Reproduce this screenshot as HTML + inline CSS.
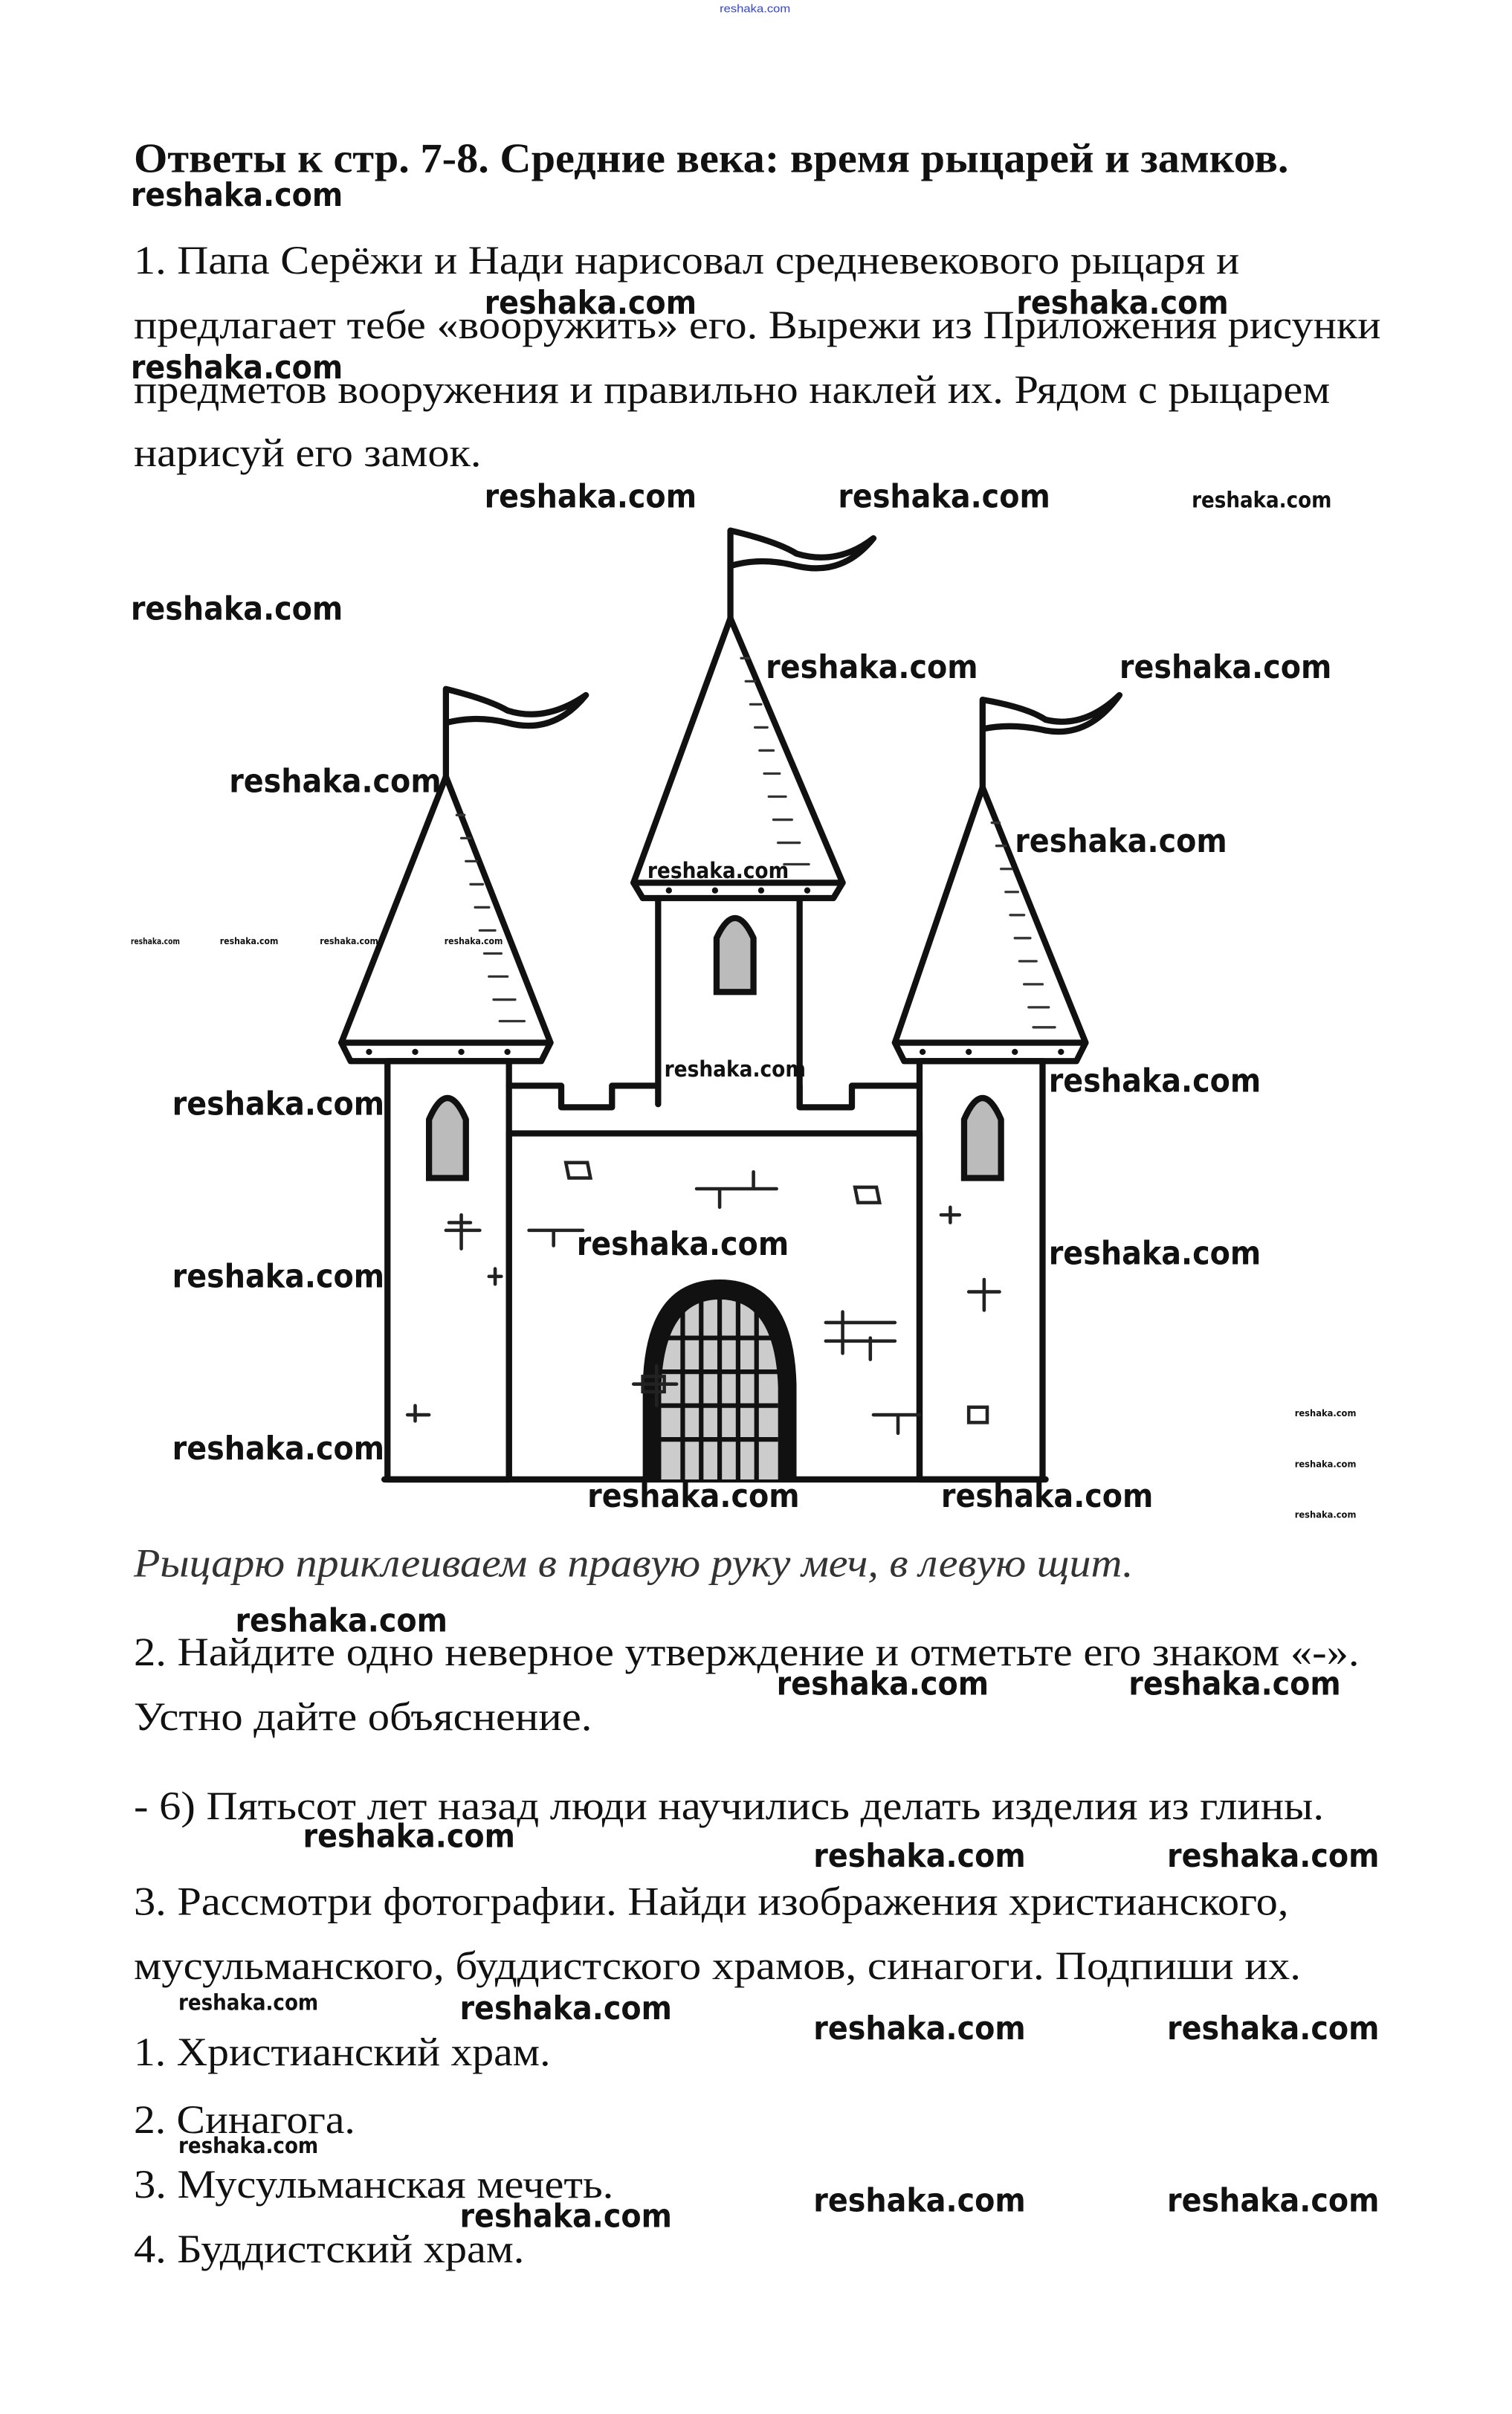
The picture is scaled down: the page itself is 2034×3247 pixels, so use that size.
<!DOCTYPE html>
<html><head><meta charset="utf-8"><style>html,body{margin:0;padding:0;background:#fff}svg{display:block}</style></head>
<body>
<svg xmlns="http://www.w3.org/2000/svg" width="2034" height="3247" viewBox="0 0 983.3 1569.7" preserveAspectRatio="none">
<rect width="1000" height="1600" fill="#fff"/>
<text x="468" y="8" font-family="Liberation Sans Narrow, Liberation Sans, sans-serif" font-size="7" fill="#3344cc" textLength="46" lengthAdjust="spacingAndGlyphs">reshaka.com</text>
<g font-family="Liberation Serif, serif" fill="#111">
<text x="87" y="112" font-weight="bold" font-size="27" textLength="751" lengthAdjust="spacingAndGlyphs">Ответы к стр. 7-8. Средние века: время рыцарей и замков.</text>
<text x="87" y="178" font-size="26" textLength="719" lengthAdjust="spacingAndGlyphs">1. Папа Серёжи и Нади нарисовал средневекового рыцаря и</text>
<text x="87" y="220" font-size="26" textLength="811" lengthAdjust="spacingAndGlyphs">предлагает тебе «вооружить» его. Вырежи из Приложения рисунки</text>
<text x="87" y="262" font-size="26" textLength="778" lengthAdjust="spacingAndGlyphs">предметов вооружения и правильно наклей их. Рядом с рыцарем</text>
<text x="87" y="303" font-size="26" textLength="226" lengthAdjust="spacingAndGlyphs">нарисуй его замок.</text>
<text x="87" y="1025" font-size="26" font-style="italic" fill="#333" textLength="650" lengthAdjust="spacingAndGlyphs">Рыцарю приклеиваем в правую руку меч, в левую щит.</text>
<text x="87" y="1083" font-size="26" textLength="797" lengthAdjust="spacingAndGlyphs">2. Найдите одно неверное утверждение и отметьте его знаком «-».</text>
<text x="87" y="1125" font-size="26" textLength="298" lengthAdjust="spacingAndGlyphs">Устно дайте объяснение.</text>
<text x="87" y="1183" font-size="26" textLength="774" lengthAdjust="spacingAndGlyphs">- 6) Пятьсот лет назад люди научились делать изделия из глины.</text>
<text x="87" y="1245" font-size="26" textLength="751" lengthAdjust="spacingAndGlyphs">3. Рассмотри фотографии. Найди изображения христианского,</text>
<text x="87" y="1287" font-size="26" textLength="759" lengthAdjust="spacingAndGlyphs">мусульманского, буддистского храмов, синагоги. Подпиши их.</text>
<text x="87" y="1343" font-size="26" textLength="271" lengthAdjust="spacingAndGlyphs">1. Христианский храм.</text>
<text x="87" y="1387" font-size="26" textLength="144" lengthAdjust="spacingAndGlyphs">2. Синагога.</text>
<text x="87" y="1429" font-size="26" textLength="312" lengthAdjust="spacingAndGlyphs">3. Мусульманская мечеть.</text>
<text x="87" y="1471" font-size="26" textLength="254" lengthAdjust="spacingAndGlyphs">4. Буддистский храм.</text>
</g>

<g fill="none" stroke="#111" stroke-width="4" stroke-linejoin="round" stroke-linecap="round">
<path d="M290 505 V448 Q318 455 330 462 Q355 470 381 452 Q360 478 330 470 Q310 465 290 470"/>
<path d="M475 402 V345 Q505 352 518 360 Q545 368 568 350 Q548 375 518 368 Q495 362 475 368"/>
<path d="M639 512 V455 Q668 460 680 468 Q705 474 728 452 Q708 480 680 475 Q658 470 639 474"/>
<path d="M290 505 L222 678 L358 678 Z" fill="#fff"/>
<path d="M475 402 L412 574 L548 574 Z" fill="#fff"/>
<path d="M639 512 L582 678 L706 678 Z" fill="#fff"/>
<path d="M222 678 L228 690 L352 690 L358 678"/>
<path d="M412 574 L418 584 L542 584 L548 574"/>
<path d="M582 678 L588 690 L700 690 L706 678"/>
<rect x="252" y="690" width="79" height="272"/>
<rect x="598" y="690" width="80" height="272"/>
<path d="M428 584 V718 M520 584 V718"/>
<path d="M331 706 H365 V720 H398 V706 H428 M520 706 V720 H554 V706 H598"/>
<path d="M331 737 H598"/>
<path d="M331 737 V962 M598 737 V962 M250 962 H680"/>
</g>
<g stroke="#333" stroke-width="1.6" stroke-linecap="round">
<path d="M297 530h5M300 545h6M303 560h7M306 575h8M309 590h9M312 605h10M315 620h11M318 635h12M321 650h14M325 664h16"/>
<path d="M482 428h5M485 443h6M488 458h7M491 473h8M494 488h9M497 503h10M500 518h11M503 533h12M506 548h14M510 562h16"/>
<path d="M645 535h5M648 550h6M651 565h7M654 580h8M657 595h9M660 610h10M663 625h11M666 640h12M669 655h13M672 668h14"/>
</g>
<g fill="#111"><circle cx="240" cy="684" r="2"/><circle cx="270" cy="684" r="2"/><circle cx="300" cy="684" r="2"/><circle cx="330" cy="684" r="2"/>
<circle cx="435" cy="579" r="2"/><circle cx="465" cy="579" r="2"/><circle cx="495" cy="579" r="2"/><circle cx="525" cy="579" r="2"/>
<circle cx="600" cy="684" r="2"/><circle cx="630" cy="684" r="2"/><circle cx="660" cy="684" r="2"/><circle cx="690" cy="684" r="2"/></g>
<g stroke="#111" stroke-width="4" fill="#bbb">
<path d="M279 766 V728 Q291 700 303 728 V766 Z"/>
<path d="M466 645 V610 Q478 584 490 610 V645 Z"/>
<path d="M627 766 V728 Q639 700 651 728 V766 Z"/>
</g>
<path d="M418 962 V900 Q420 832 468 832 Q516 832 518 900 V962 Z" fill="#111"/>
<path d="M430 962 V902 Q432 845 468 845 Q504 845 506 902 V962 Z" fill="#ccc"/>
<g stroke="#111" stroke-width="3">
<path d="M444 850V962M456 845V962M468 844V962M480 845V962M492 850V962"/>
<path d="M430 870H506M430 892H506M430 914H506M430 936H506"/>
</g>
<g fill="none" stroke="#222" stroke-width="2.2" stroke-linecap="round">
<path d="M368 756h14l2 10h-14zM453 773h52M490 762v11M468 773v12M556 772h14l2 10h-14zM344 800h35M360 800v10M412 900h28M427 888v26M418 895h14v10h-14zM537 860h45M548 853v27M537 872h45M566 870v14M568 920h30M584 920v12M290 800h22M300 790v22M292 795h14M318 830h8M322 825v10M265 920h14M270 914v10M630 840h20M640 832v20M630 915h12v10h-12zM612 790h12M618 785v10"/>
</g>

<g font-family="DejaVu Sans, Liberation Sans, sans-serif" font-weight="bold" fill="#111">
<text x="85" y="134" font-size="21" textLength="138" lengthAdjust="spacingAndGlyphs">reshaka.com</text>
<text x="315" y="204" font-size="21" textLength="138" lengthAdjust="spacingAndGlyphs">reshaka.com</text>
<text x="661" y="204" font-size="21" textLength="138" lengthAdjust="spacingAndGlyphs">reshaka.com</text>
<text x="85" y="246" font-size="21" textLength="138" lengthAdjust="spacingAndGlyphs">reshaka.com</text>
<text x="315" y="330" font-size="21" textLength="138" lengthAdjust="spacingAndGlyphs">reshaka.com</text>
<text x="545" y="330" font-size="21" textLength="138" lengthAdjust="spacingAndGlyphs">reshaka.com</text>
<text x="775" y="330" font-size="14" textLength="91" lengthAdjust="spacingAndGlyphs">reshaka.com</text>
<text x="85" y="403" font-size="21" textLength="138" lengthAdjust="spacingAndGlyphs">reshaka.com</text>
<text x="498" y="441" font-size="21" textLength="138" lengthAdjust="spacingAndGlyphs">reshaka.com</text>
<text x="728" y="441" font-size="21" textLength="138" lengthAdjust="spacingAndGlyphs">reshaka.com</text>
<text x="149" y="515" font-size="21" textLength="138" lengthAdjust="spacingAndGlyphs">reshaka.com</text>
<text x="660" y="554" font-size="21" textLength="138" lengthAdjust="spacingAndGlyphs">reshaka.com</text>
<text x="421" y="571" font-size="14" textLength="92" lengthAdjust="spacingAndGlyphs">reshaka.com</text>
<text x="85" y="614" font-size="5.5" textLength="32" lengthAdjust="spacingAndGlyphs">reshaka.com</text>
<text x="143" y="614" font-size="6" textLength="38" lengthAdjust="spacingAndGlyphs">reshaka.com</text>
<text x="208" y="614" font-size="6" textLength="38" lengthAdjust="spacingAndGlyphs">reshaka.com</text>
<text x="289" y="614" font-size="6" textLength="38" lengthAdjust="spacingAndGlyphs">reshaka.com</text>
<text x="432" y="700" font-size="14" textLength="92" lengthAdjust="spacingAndGlyphs">reshaka.com</text>
<text x="682" y="710" font-size="21" textLength="138" lengthAdjust="spacingAndGlyphs">reshaka.com</text>
<text x="112" y="725" font-size="21" textLength="138" lengthAdjust="spacingAndGlyphs">reshaka.com</text>
<text x="375" y="816" font-size="21" textLength="138" lengthAdjust="spacingAndGlyphs">reshaka.com</text>
<text x="682" y="822" font-size="21" textLength="138" lengthAdjust="spacingAndGlyphs">reshaka.com</text>
<text x="112" y="837" font-size="21" textLength="138" lengthAdjust="spacingAndGlyphs">reshaka.com</text>
<text x="842" y="921" font-size="6" textLength="40" lengthAdjust="spacingAndGlyphs">reshaka.com</text>
<text x="842" y="954" font-size="6" textLength="40" lengthAdjust="spacingAndGlyphs">reshaka.com</text>
<text x="842" y="987" font-size="6" textLength="40" lengthAdjust="spacingAndGlyphs">reshaka.com</text>
<text x="112" y="949" font-size="21" textLength="138" lengthAdjust="spacingAndGlyphs">reshaka.com</text>
<text x="382" y="980" font-size="21" textLength="138" lengthAdjust="spacingAndGlyphs">reshaka.com</text>
<text x="612" y="980" font-size="21" textLength="138" lengthAdjust="spacingAndGlyphs">reshaka.com</text>
<text x="153" y="1061" font-size="21" textLength="138" lengthAdjust="spacingAndGlyphs">reshaka.com</text>
<text x="505" y="1102" font-size="21" textLength="138" lengthAdjust="spacingAndGlyphs">reshaka.com</text>
<text x="734" y="1102" font-size="21" textLength="138" lengthAdjust="spacingAndGlyphs">reshaka.com</text>
<text x="197" y="1201" font-size="21" textLength="138" lengthAdjust="spacingAndGlyphs">reshaka.com</text>
<text x="529" y="1214" font-size="21" textLength="138" lengthAdjust="spacingAndGlyphs">reshaka.com</text>
<text x="759" y="1214" font-size="21" textLength="138" lengthAdjust="spacingAndGlyphs">reshaka.com</text>
<text x="116" y="1307" font-size="14" textLength="91" lengthAdjust="spacingAndGlyphs">reshaka.com</text>
<text x="299" y="1313" font-size="21" textLength="138" lengthAdjust="spacingAndGlyphs">reshaka.com</text>
<text x="529" y="1326" font-size="21" textLength="138" lengthAdjust="spacingAndGlyphs">reshaka.com</text>
<text x="759" y="1326" font-size="21" textLength="138" lengthAdjust="spacingAndGlyphs">reshaka.com</text>
<text x="116" y="1400" font-size="14" textLength="91" lengthAdjust="spacingAndGlyphs">reshaka.com</text>
<text x="299" y="1448" font-size="21" textLength="138" lengthAdjust="spacingAndGlyphs">reshaka.com</text>
<text x="529" y="1438" font-size="21" textLength="138" lengthAdjust="spacingAndGlyphs">reshaka.com</text>
<text x="759" y="1438" font-size="21" textLength="138" lengthAdjust="spacingAndGlyphs">reshaka.com</text>
</g>
</svg>
</body></html>
